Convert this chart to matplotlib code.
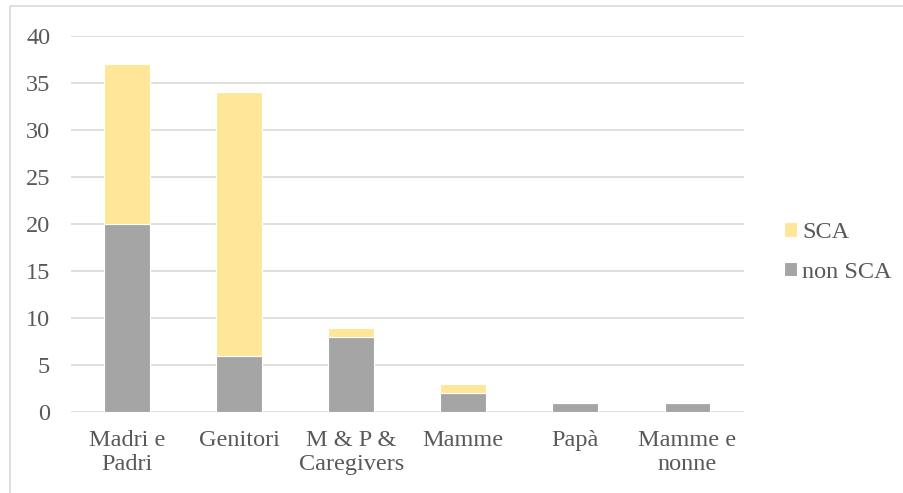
import matplotlib.pyplot as plt
import numpy as np
from matplotlib.patches import Rectangle

# Categories and counts per group
categories = ['Madri e\nPadri', 'Genitori', 'M & P &\nCaregivers', 'Mamme', 'Papà', 'Mamme e\nnonne']
non_sca = [20, 6, 8, 2, 1, 1]
sca = [17, 28, 1, 1, 0, 0]

grey = '#a5a5a5'
yellow = '#ffe699'
text_col = '#595959'
fs = 17.5

plt.rcParams['font.family'] = ['Liberation Serif', 'DejaVu Serif']

fig = plt.figure(figsize=(9.04, 4.93), dpi=100)
ax = fig.add_axes([0.0785, 0.164, 0.744, 0.763])

x = np.arange(len(categories))
ax.bar(x, non_sca, width=0.41, color=grey, edgecolor='white', linewidth=0.8,
       label='non SCA', zorder=3)
ax.bar(x, sca, width=0.41, bottom=non_sca, color=yellow, edgecolor='white',
       linewidth=0.8, label='SCA', zorder=3)

ax.set_xlim(-0.5, len(categories) - 0.5)
ax.set_ylim(0, 40)
ax.set_yticks(range(0, 41, 5))
ax.set_xticks(x)
ax.set_xticklabels(categories, fontsize=fs, color=text_col, linespacing=1.17)
ax.tick_params(axis='y', labelsize=fs, labelcolor=text_col, length=0, pad=15)
ax.tick_params(axis='x', length=0, pad=13)
ax.grid(axis='y', color='#d9d9d9', linewidth=1.2, zorder=0)
for s in ax.spines.values():
    s.set_visible(False)

# Legend: SCA above non SCA
handles, labels = ax.get_legend_handles_labels()
leg = fig.legend(handles[::-1], labels[::-1], loc='center left',
                 bbox_to_anchor=(0.843, 0.488), frameon=False, fontsize=fs,
                 handlelength=0.55, handleheight=0.55, handletextpad=0.2,
                 labelspacing=0.75, labelcolor=text_col)

# Chart area border
fig.add_artist(Rectangle((0.011, -0.05), 1.2, 1.037, transform=fig.transFigure,
                         fill=False, edgecolor='#d9d9d9', linewidth=1.2))

fig.savefig('out.png', dpi=100)
